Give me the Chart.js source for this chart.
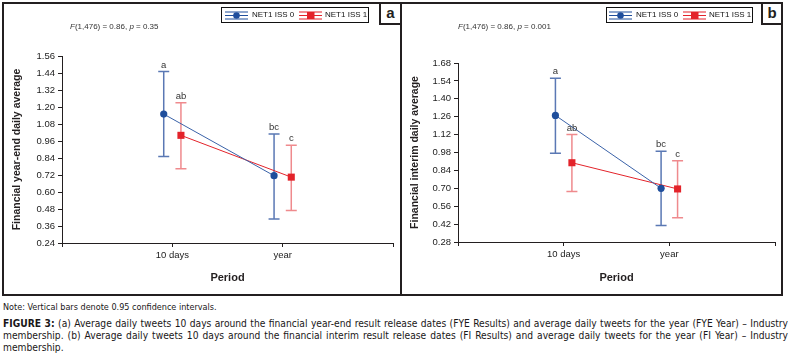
<!DOCTYPE html>
<html>
<head>
<meta charset="utf-8">
<script src="https://cdn.jsdelivr.net/npm/chart.js@4.4.1/dist/chart.umd.min.js"></script>
<style>
  body { margin:0; background:#fff; width:792px; height:364px; position:relative; overflow:hidden;
         font-family:"Liberation Sans", Arial, sans-serif; color:#231f20; }
  .panel { position:absolute; top:2px; height:294px; border:2px solid #231f20; box-sizing:border-box; }
  .tag { position:absolute; top:2px; height:23px; border:2px solid #231f20; box-sizing:border-box; background:#fff;
         font:bold 15px "Liberation Sans", Arial, sans-serif; text-align:center; line-height:17px; }
  canvas { position:absolute; top:4px; }
  .stat { position:absolute; top:22px; font-size:8px; color:#333; white-space:nowrap; }
  .legend { position:absolute; top:7px; height:16px; border:1.5px solid #111; box-sizing:border-box; background:#fff; }
  .legend svg, .legend span { position:absolute; }
  .legend svg { top:3px; }
  .legend span { top:1.5px; font-size:8px; color:#111; white-space:nowrap; }
  .caption { position:absolute; left:3px; width:785px; font-family:"Liberation Sans Narrow", "DejaVu Sans Condensed", sans-serif; color:#1a1718; }
  .note { top:302px; font-size:9px; }
  .fig { font-size:10.2px; line-height:12px; }
  .fig div { text-align:justify; text-align-last:justify; white-space:nowrap; }
  .fig div.last { text-align-last:left; }
</style>
</head>
<body>
<div class="panel" style="left:2px; width:400px;"></div>
<div class="panel" style="left:400px; width:383px;"></div>

<canvas id="chartA" width="396" height="290" style="left:4px;"></canvas>
<canvas id="chartB" width="379" height="290" style="left:402px;"></canvas>

<div class="tag" style="left:379px; width:23px;">a</div>
<div class="tag" style="left:761px; width:22px;">b</div>

<div class="stat" style="left:70px;"><i>F</i>(1,476) = 0.86, <i>p</i> = 0.35</div>
<div class="stat" style="left:458px;"><i>F</i>(1,476) = 0.86, <i>p</i> = 0.001</div>

<div class="legend" id="legendA" style="left:221px; width:148px;"></div>
<div class="legend" id="legendB" style="left:606px; width:147px;"></div>

<div class="caption note">Note: Vertical bars denote 0.95 confidence intervals.</div>
<div class="caption fig" style="top:318px;">
  <div><b>FIGURE 3:</b> (a) Average daily tweets 10 days around the financial year-end result release dates (FYE Results) and average daily tweets for the year (FYE Year) – Industry</div>
  <div>membership. (b) Average daily tweets 10 days around the financial interim result release dates (FI Results) and average daily tweets for the year (FI Year) – Industry</div>
  <div class="last">membership.</div>
</div>

<script>
// categories and groups
const periods = ['10 days', 'year'];
const groups = ['NET1 ISS 0', 'NET1 ISS 1'];
const letters0 = ['a', 'bc'];
const letters1 = ['ab', 'c'];

// (a) financial year-end
const fyeMean0 = [1.15, 0.715];
const fyeLow0  = [0.85, 0.41];
const fyeHigh0 = [1.45, 1.01];
const fyeMean1 = [1.00, 0.705];
const fyeLow1  = [0.765, 0.47];
const fyeHigh1 = [1.23, 0.93];
const yTicksA = [0.24, 0.36, 0.48, 0.60, 0.72, 0.84, 0.96, 1.08, 1.20, 1.32, 1.44, 1.56];

// (b) financial interim
const fiMean0 = [1.27, 0.70];
const fiLow0  = [0.975, 0.41];
const fiHigh0 = [1.56, 0.99];
const fiMean1 = [0.90, 0.695];
const fiLow1  = [0.675, 0.47];
const fiHigh1 = [1.12, 0.915];
const yTicksB = [0.28, 0.42, 0.56, 0.70, 0.84, 0.98, 1.12, 1.26, 1.40, 1.54, 1.68];

const BLUE = '#1f4e9c', RED = '#e3232a';
const BLUE_BAR = '#5a78b4', RED_BAR = '#ef8a8d';
const OFF = 0.078; // side-by-side shift of the two groups
const INK = '#231f20';
const FONT = '"Liberation Sans", Arial, sans-serif';

const errorBars = {
  id: 'errorBars',
  beforeDatasetsDraw(chart) {
    const { ctx, scales: { x, y } } = chart;
    chart.data.datasets.forEach(ds => {
      ds.data.forEach((pt, i) => {
        const px = x.getPixelForValue(pt.x);
        const top = y.getPixelForValue(ds.ciHigh[i]);
        const bot = y.getPixelForValue(ds.ciLow[i]);
        ctx.save();
        ctx.strokeStyle = ds.barColor;
        ctx.lineWidth = 1.5;
        ctx.beginPath();
        ctx.moveTo(px, top); ctx.lineTo(px, bot);
        ctx.moveTo(px - 5.5, top); ctx.lineTo(px + 5.5, top);
        ctx.moveTo(px - 5.5, bot); ctx.lineTo(px + 5.5, bot);
        ctx.stroke();
        ctx.restore();
      });
    });
  },
  afterDatasetsDraw(chart) {
    const { ctx, scales: { x, y } } = chart;
    chart.data.datasets.forEach(ds => {
      ds.data.forEach((pt, i) => {
        ctx.save();
        ctx.fillStyle = '#333';
        ctx.font = '9.5px ' + FONT;
        ctx.textAlign = 'center';
        ctx.textBaseline = 'alphabetic';
        ctx.fillText(ds.letters[i], x.getPixelForValue(pt.x), y.getPixelForValue(ds.ciHigh[i]) - 4);
        ctx.restore();
      });
    });
  }
};

function makeChart(id, mean0, low0, high0, mean1, low1, high1, yTicks, yTitle, pad, yWidth, xHeight) {
  const ctx = document.getElementById(id).getContext('2d');
  return new Chart(ctx, {
    type: 'line',
    data: {
      datasets: [
        { label: groups[0], data: periods.map((p, i) => ({ x: i + 1 - OFF, y: mean0[i] })),
          ciLow: low0, ciHigh: high0, letters: letters0, barColor: BLUE_BAR,
          borderColor: '#3a62a8', backgroundColor: BLUE, borderWidth: 1,
          pointStyle: 'circle', pointRadius: 3.6, pointBorderWidth: 0 },
        { label: groups[1], data: periods.map((p, i) => ({ x: i + 1 + OFF, y: mean1[i] })),
          ciLow: low1, ciHigh: high1, letters: letters1, barColor: RED_BAR,
          borderColor: RED, backgroundColor: RED, borderWidth: 1,
          pointStyle: 'rect', pointRadius: 5, pointBorderWidth: 0 }
      ]
    },
    options: {
      responsive: false,
      animation: false,
      devicePixelRatio: 1,
      layout: { padding: pad },
      plugins: { legend: { display: false }, tooltip: { enabled: false } },
      scales: {
        x: {
          type: 'linear', min: 0, max: periods.length + 1,
          afterBuildTicks: s => { s.ticks = [0, 1, 2, 3].map(v => ({ value: v })); },
          afterFit: s => { s.height = xHeight; },
          ticks: { callback: v => periods[v - 1] || '', color: '#222', padding: 3, maxRotation: 0,
                   font: { size: 9.5, family: FONT } },
          grid: { drawOnChartArea: false, tickLength: 4, color: INK },
          border: { color: INK, width: 1 },
          title: { display: true, text: 'Period', color: INK, padding: { top: 0, bottom: 9 },
                   font: { size: 11, weight: 'bold', family: FONT } }
        },
        y: {
          min: yTicks[0], max: yTicks[yTicks.length - 1],
          afterBuildTicks: s => { s.ticks = yTicks.map(v => ({ value: v })); },
          afterFit: s => { s.width = yWidth; },
          ticks: { callback: v => v.toFixed(2), color: '#222', padding: 3,
                   font: { size: 9.5, family: FONT } },
          grid: { drawOnChartArea: false, tickLength: 4, color: INK },
          border: { color: INK, width: 1 },
          title: { display: true, text: yTitle, color: INK, padding: { top: 7, bottom: 0 },
                   font: { size: 10.5, weight: 'bold', family: FONT } }
        }
      }
    },
    plugins: [errorBars]
  });
}

makeChart('chartA', fyeMean0, fyeLow0, fyeHigh0, fyeMean1, fyeLow1, fyeHigh1, yTicksA,
  'Financial year-end daily average', { top: 52, right: 7, left: 0, bottom: 0 }, 58, 51);
makeChart('chartB', fiMean0, fiLow0, fiHigh0, fiMean1, fiLow1, fiHigh1, yTicksB,
  'Financial interim daily average', { top: 59, right: 6, left: 0, bottom: 0 }, 56, 52);

// legend boxes
function legendHTML(x0, x1) {
  const line = c => `<line x1="0" y1="1" x2="23" y2="1" stroke="${c}"/><line x1="0" y1="4.5" x2="23" y2="4.5" stroke="${c}"/><line x1="0" y1="8" x2="23" y2="8" stroke="${c}"/>`;
  return `<svg width="23" height="9" style="left:${x0}px">${line(BLUE)}<circle cx="11.5" cy="4.5" r="3.3" fill="${BLUE}"/></svg>` +
         `<span style="left:${x0 + 27}px">${groups[0]}</span>` +
         `<svg width="23" height="9" style="left:${x1}px">${line(RED)}<rect x="8" y="1" width="7.5" height="7" fill="${RED}"/></svg>` +
         `<span style="left:${x1 + 26}px">${groups[1]}</span>`;
}
document.getElementById('legendA').innerHTML = legendHTML(3, 77);
document.getElementById('legendB').innerHTML = legendHTML(2, 76);
</script>
</body>
</html>
